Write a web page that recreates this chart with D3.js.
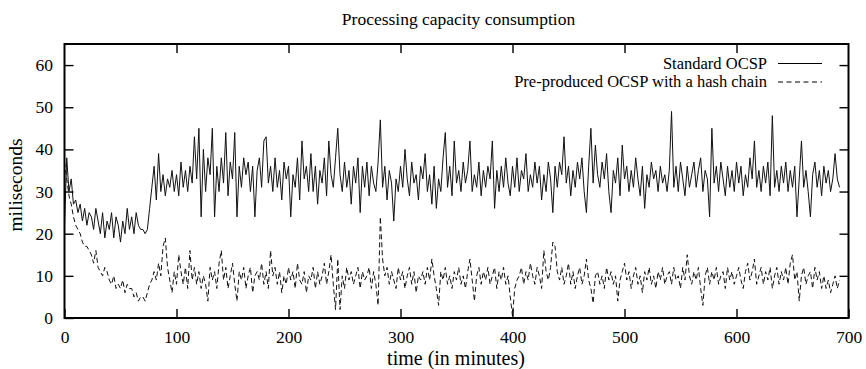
<!DOCTYPE html>
<html><head><meta charset="utf-8">
<script src="https://cdn.jsdelivr.net/npm/d3@7"></script>
<style>body{margin:0;background:#fff}svg{display:block}text{font-family:"Liberation Serif","Times New Roman",serif;fill:#000}</style>
</head><body><svg id="c" width="866" height="369"></svg>
<script>
const title = "Processing capacity consumption";
const xLabel = "time (in minutes)";
const yLabel = "miliseconds";
const seriesNames = ["Standard OCSP", "Pre-produced OCSP with a hash chain"];
const xTicks = [0,100,200,300,400,500,600,700];
const yTicks = [0,10,20,30,40,50,60];
// one sample every 2 minutes, minute 0 .. 692
const minutes = d3.range(0, 693, 2);
const standardOCSP = [
22,38,30,33,27,28,25,27,23,26, 22,25,24,21,26,23,20,25,19,23,
21,25,19,24,22,18,23,20,26,21, 24,20,25,22,21,21,20,21,26,31,
36,28,39,30,34,29,33,31,35,30, 34,29,37,31,35,30,36,32,43,33,
45,24,40,30,38,34,45,24,36,30, 38,32,44,29,37,33,44,24,36,31,
38,34,37,30,36,24,35,38,31,42, 43,32,36,30,38,31,35,28,37,33,
36,24,34,31,38,28,42,33,36,30, 39,30,36,27,35,32,38,29,42,34,
31,38,45,34,30,37,31,35,27,36, 32,38,25,36,31,37,29,36,32,30,
37,47,31,36,28,35,32,23,33,30, 36,31,40,33,29,37,32,34,28,36,
33,39,30,34,27,36,26,33,30,38, 44,31,36,29,42,32,35,30,37,32,
35,42,30,34,31,37,29,35,31,36, 33,42,26,35,30,36,31,38,32,29,
36,31,38,30,35,33,39,30,34,31, 37,32,36,28,34,30,37,33,25,36,
31,37,34,43,32,36,29,35,31,37, 33,38,30,25,36,45,32,41,34,31,
37,33,39,30,25,35,32,38,29,41, 33,36,30,35,31,38,33,29,36,26,
34,31,37,33,35,30,36,32,34,30, 35,49,31,36,30,37,33,29,36,31,
34,37,31,35,38,30,35,33,24,45, 32,36,30,37,33,29,36,31,35,30,
37,32,36,29,34,31,38,33,42,31, 35,30,36,32,37,29,48,31,35,30,
36,32,37,30,35,31,36,24,33,42, 31,35,30,24,34,37,31,35,29,36,
32,35,30,33,39,33,31];
const preProducedOCSP = [
37,33,29,27,24,22,21,20,18,17, 17,16,15,13,16,12,11,10,12,11,
9,8,10,7,8,7,9,6,8,7, 7,5,6,4,5,5,4,6,8,9,
11,9,13,10,17,19,12,9,6,11, 8,15,11,8,12,7,16,9,12,8,
11,7,10,8,4,12,9,11,7,13, 16,9,12,7,10,13,8,4,11,9,
12,7,10,12,6,10,11,9,13,8, 11,7,16,10,12,8,11,6,10,8,
12,9,11,7,13,9,8,11,6,10, 9,12,7,11,8,10,13,8,11,15,
8,2,14,2,10,7,12,9,11,8, 10,12,7,11,9,10,12,7,11,8,
3,24,14,10,12,8,11,9,7,12, 9,11,7,10,12,8,11,6,10,9,
11,8,12,9,14,10,7,3,11,9, 12,8,10,7,11,9,12,8,10,7,
11,14,9,4,10,12,8,11,9,12, 8,10,12,7,11,9,12,8,10,5,
0.5,7,9,10,12,8,11,9,13,10, 8,12,10,7,16,11,9,12,18,17,
11,9,12,8,10,13,8,11,7,10, 12,8,10,14,9,7,3.5,10,11,8,
10,7,12,9,11,8,10,4,9,11, 13,9,11,7,10,12,8,10,6,11,
9,12,8,10,7,11,9,12,8,10, 11,8,12,9,10,7,12,9,15,10,
8,11,9,12,7,3,10,12,8,11, 9,12,8,10,11,7,12,9,11,8,
10,12,9,7,11,13,9,11,14,8, 10,12,8,11,9,12,7,10,12,8,
11,9,12,8,13,15,9,11,4,10, 12,8,10,11,7,12,9,11,7,10,
7,9,6,8,10,7,9];

const svg = d3.select("#c");
const L = 64.5, R = 848.5, T = 44, B = 318;
const x = d3.scaleLinear().domain([0,700]).range([L,R]);
const y = d3.scaleLinear().domain([0,65]).range([B,T]);
const font = "Liberation Serif";

// curves
const line = d3.line().x((d,i)=>x(minutes[i])).y(d=>y(d));
svg.append("clipPath").attr("id","pc").append("rect")
  .attr("x",L).attr("y",T).attr("width",R-L).attr("height",B-T);
const g = svg.append("g").attr("clip-path","url(#pc)");
g.append("path").datum(standardOCSP).attr("d",line)
  .attr("fill","none").attr("stroke","#111").attr("stroke-width",1);
g.append("path").datum(preProducedOCSP).attr("d",line)
  .attr("fill","none").attr("stroke","#111").attr("stroke-width",1)
  .attr("stroke-dasharray","5,3");

// axes with inward ticks on all sides
const fmt = d3.format("d");
const ax = (gen, tr) => svg.append("g").attr("transform",tr).call(gen)
  .call(s=>s.select(".domain").remove())
  .call(s=>s.selectAll("line").attr("stroke","#000").attr("stroke-width",1.4))
  .call(s=>s.selectAll("text").attr("font-family",font).attr("font-size",17.5).attr("fill","#000"));
ax(d3.axisBottom(x).tickValues(xTicks).tickFormat(fmt).tickSizeInner(-9).tickPadding(13), `translate(0,${B})`);
ax(d3.axisTop(x).tickValues(xTicks.slice(1,-1)).tickFormat("").tickSizeInner(-9), `translate(0,${T})`);
ax(d3.axisLeft(y).tickValues(yTicks).tickFormat(fmt).tickSizeInner(-9).tickPadding(11.5), `translate(${L},0)`);
ax(d3.axisRight(y).tickValues(yTicks.slice(1)).tickFormat("").tickSizeInner(-9), `translate(${R},0)`);

svg.append("rect").attr("x",L).attr("y",T).attr("width",R-L).attr("height",B-T)
  .attr("fill","none").attr("stroke","#000").attr("stroke-width",2);

// labels
svg.append("text").attr("x",458.5).attr("y",24.5).attr("text-anchor","middle")
  .attr("font-size",17.5).text(title);
svg.append("text").attr("x",456).attr("y",365).attr("text-anchor","middle")
  .attr("font-size",20).text(xLabel);
svg.append("text").attr("transform","translate(22,185) rotate(-90)").attr("text-anchor","middle")
  .attr("font-size",19.5).text(yLabel);

// legend
const leg = svg.append("g");
seriesNames.forEach((n,i)=>{
  const yy = 63.5 + i*18.5;
  leg.append("text").attr("x",767).attr("y",yy+5.3).attr("text-anchor","end")
    .attr("font-size",16.5).text(n);
  leg.append("line").attr("x1",778).attr("x2",822).attr("y1",yy).attr("y2",yy)
    .attr("stroke","#000").attr("stroke-width",1)
    .attr("stroke-dasharray", i===1 ? "5,3.5" : null);
});
</script></body></html>
